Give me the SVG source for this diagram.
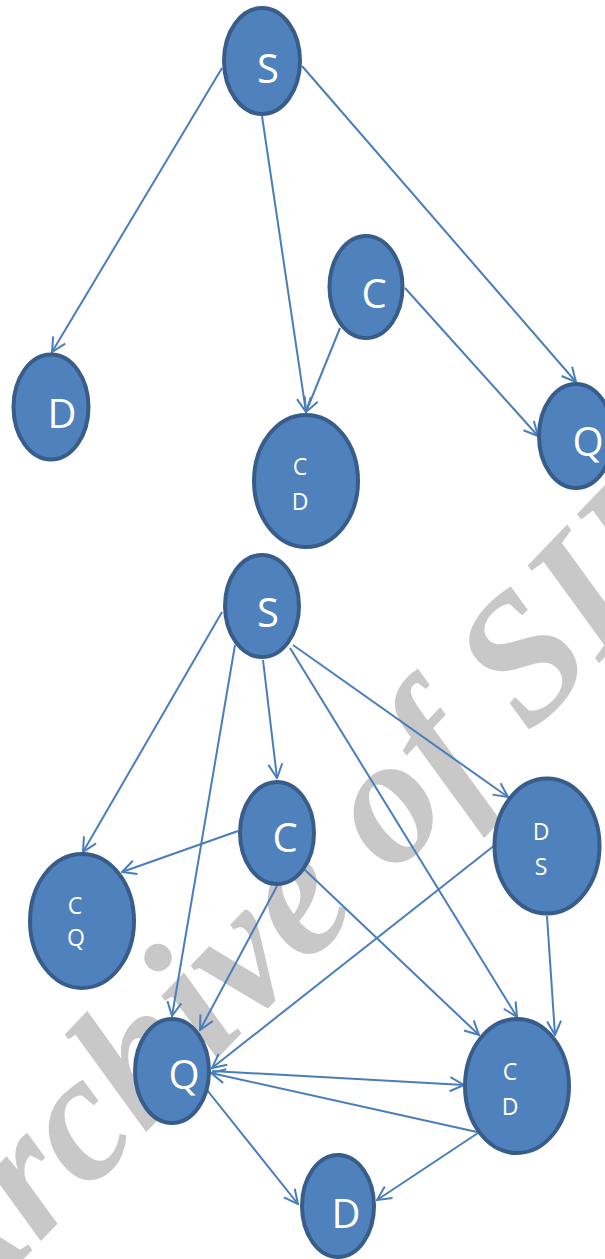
<svg xmlns="http://www.w3.org/2000/svg" width="605" height="1259" viewBox="0 0 605 1259">
  <style>
    .node { fill: #4f81bd; stroke: #385d8a; stroke-width: 4; }
    .big { font-family: "Open Sans", "Liberation Sans", sans-serif; font-size: 40px; fill: #ffffff; text-anchor: middle; }
    .small { font-family: "Open Sans", "Liberation Sans", sans-serif; font-size: 23px; fill: #ffffff; text-anchor: middle; }
    .edge { stroke: #4a7ebb; stroke-width: 2; fill: none; marker-end: url(#arrow); }
    .mark { font-family: "Liberation Serif", "Times New Roman", serif; font-weight: bold; font-style: italic; font-size: 182px; fill: #c8c8c8; }
  </style>
  <defs>
    <!-- open V arrowhead -->
    <marker id="arrow" viewBox="0 0 18 18" refX="16.5" refY="9" markerWidth="18" markerHeight="18" markerUnits="userSpaceOnUse" orient="auto">
      <path d="M2.5,2 L16.5,9 L2.5,16" fill="none" stroke="#4a7ebb" stroke-width="2"/>
    </marker>
  </defs>
  <rect width="605" height="1259" fill="#ffffff"/>

  <!-- background watermark -->
  <text class="mark" x="-46" y="1331" transform="rotate(-46 -46 1331)">Archive of SID</text>

  <g id="connectors">
    <!-- upper graph -->
    <line class="edge" x1="222" y1="68" x2="52" y2="352"/>
    <line class="edge" x1="262" y1="116" x2="306" y2="412"/>
    <line class="edge" x1="302" y1="66" x2="576" y2="382"/>
    <line class="edge" x1="340" y1="328" x2="306" y2="412"/>
    <line class="edge" x1="405" y1="288" x2="538" y2="436"/>
    <!-- lower graph -->
    <line class="edge" x1="222" y1="612" x2="83" y2="852"/>
    <line class="edge" x1="235" y1="645" x2="172" y2="1016"/>
    <line class="edge" x1="263" y1="660" x2="277" y2="778"/>
    <line class="edge" x1="290" y1="648" x2="517" y2="1017"/>
    <line class="edge" x1="293" y1="645" x2="508" y2="797"/>
    <line class="edge" x1="238" y1="831" x2="122" y2="872"/>
    <line class="edge" x1="277" y1="886" x2="200" y2="1030"/>
    <line class="edge" x1="305" y1="870" x2="479" y2="1035"/>
    <line class="edge" x1="495" y1="845" x2="212" y2="1068"/>
    <line class="edge" x1="547" y1="916" x2="555" y2="1035"/>
    <line class="edge" x1="212" y1="1071" x2="464" y2="1085"/>
    <line class="edge" x1="477" y1="1132" x2="211" y2="1073"/>
    <line class="edge" x1="207" y1="1090" x2="298" y2="1204"/>
    <line class="edge" x1="478" y1="1133" x2="377" y2="1200"/>
  </g>

  <g id="s1"><ellipse class="node" cx="262" cy="61" rx="38" ry="53"/><text class="big" x="268" y="83">S</text></g>
  <g id="d1"><ellipse class="node" cx="51" cy="407" rx="37.5" ry="52.5"/><text class="big" x="62" y="428">D</text></g>
  <g id="c1"><ellipse class="node" cx="366" cy="287" rx="36.5" ry="51"/><text class="big" x="374" y="308">C</text></g>
  <g id="cd1"><ellipse class="node" cx="306" cy="481" rx="52" ry="66"/><text class="small" x="300" y="475">C</text><text class="small" x="300" y="510">D</text></g>
  <g id="q1"><ellipse class="node" cx="576" cy="436" rx="37" ry="52"/><text class="big" x="588" y="456">Q</text></g>

  <g id="s2"><ellipse class="node" cx="262" cy="606" rx="37" ry="51"/><text class="big" x="268" y="627">S</text></g>
  <g id="c2"><ellipse class="node" cx="277" cy="833" rx="37" ry="51"/><text class="big" x="285" y="852">C</text></g>
  <g id="cq"><ellipse class="node" cx="82" cy="921" rx="52" ry="67"/><text class="small" x="75" y="914">C</text><text class="small" x="76" y="946">Q</text></g>
  <g id="ds"><ellipse class="node" cx="547" cy="846" rx="52.5" ry="67.5"/><text class="small" x="541" y="840">D</text><text class="small" x="541" y="875">S</text></g>
  <g id="q2"><ellipse class="node" cx="172" cy="1071" rx="37" ry="52"/><text class="big" x="184" y="1089">Q</text></g>
  <g id="cd2"><ellipse class="node" cx="517" cy="1086" rx="52" ry="67"/><text class="small" x="510" y="1080">C</text><text class="small" x="510" y="1115">D</text></g>
  <g id="d2"><ellipse class="node" cx="338" cy="1206" rx="36" ry="51"/><text class="big" x="346" y="1228">D</text></g>
</svg>
